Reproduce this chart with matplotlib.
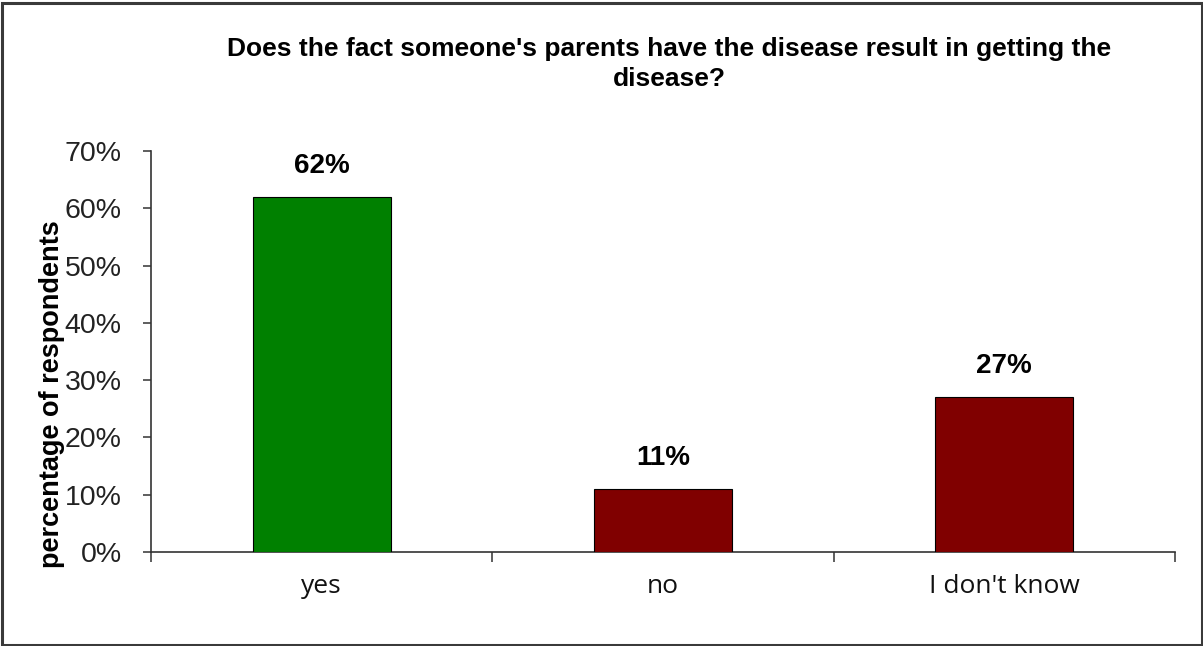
import matplotlib
matplotlib.use("Agg")
import matplotlib.pyplot as plt
from matplotlib.patches import Rectangle
from matplotlib.ticker import FixedLocator, PercentFormatter

# Survey answers and their shares (percent of respondents)
categories = ["yes", "no", "I don't know"]
shares = [62, 11, 27]
bar_colors = ["#008000", "#800000", "#800000"]
y_ticks = [0, 10, 20, 30, 40, 50, 60, 70]
title = "Does the fact someone's parents have the disease result in getting the\ndisease?"
y_label = "percentage of respondents"

W, H = 1203, 646
fig = plt.figure(figsize=(W / 100, H / 100), dpi=100)
fig.patch.set_facecolor("white")

ax = fig.add_axes([151 / W, 1 - 552 / H, (1175 - 151) / W, (552 - 151) / H])
x = range(len(categories))
bars = ax.bar(x, shares, width=0.405, color=bar_colors, edgecolor="black", linewidth=0.8, zorder=3)

ax.set_xlim(-0.5, len(categories) - 0.5)
ax.set_ylim(0, 70)

# value labels above each bar
for b, v in zip(bars, shares):
    ax.annotate(f"{v}%", (b.get_x() + b.get_width() / 2, v), xytext=(0, 18),
                textcoords="offset pixels", ha="center", va="bottom",
                fontsize=20, fontweight="bold", family="Liberation Sans")

# axes styling
for side in ("top", "right"):
    ax.spines[side].set_visible(False)
for side in ("left", "bottom"):
    ax.spines[side].set_color("#333333")
    ax.spines[side].set_linewidth(1.2)

ax.yaxis.set_major_locator(FixedLocator(y_ticks))
ax.yaxis.set_major_formatter(PercentFormatter(decimals=0))
ax.tick_params(axis="y", direction="out", length=6, width=1.1, color="#333333",
               pad=15, labelsize=20.5)
for lbl in ax.get_yticklabels():
    lbl.set_family("Liberation Sans")
    lbl.set_color("#222222")

ax.set_xticks(list(x))
ax.set_xticklabels(categories)
ax.set_xticks([i - 0.5 for i in range(len(categories) + 1)], minor=True)
ax.tick_params(axis="x", which="major", length=0, pad=16, labelsize=19)
ax.tick_params(axis="x", which="minor", direction="out", length=7, width=1.1, color="#333333")
for lbl in ax.get_xticklabels():
    lbl.set_family("Open Sans")
    lbl.set_color("#111111")

# title and axis label
fig.text(669 / W, 1 - 64 / H, title, ha="center", va="center", fontsize=19,
         fontweight="bold", family="Liberation Sans", linespacing=1.35)
fig.text(52 / W, 1 - 394 / H, y_label, rotation=90, ha="center", va="center",
         fontsize=19.5, fontweight="bold", family="Liberation Sans")

# chart frame
fig.patches.append(Rectangle((1.5 / W, 1.5 / H), (W - 3) / W, (H - 4) / H,
                             transform=fig.transFigure, fill=False,
                             edgecolor="#3a3a3a", linewidth=2.2))

fig.savefig("out.png", dpi=100, facecolor="white")
